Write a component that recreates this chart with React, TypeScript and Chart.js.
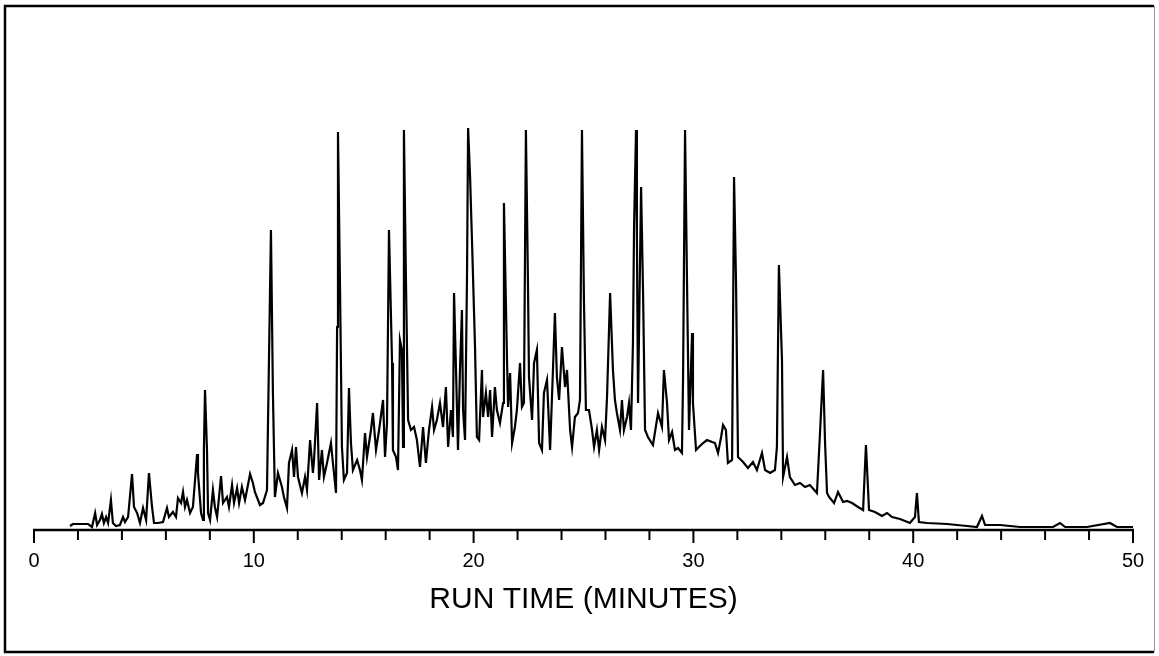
import React, { useEffect, useRef } from 'react';
import { Chart, registerables } from 'chart.js';

Chart.register(...registerables);

// Run time (minutes) of each sampled point of the chromatogram trace
const runTime = [
  1.64, 1.77, 2.46, 2.64, 2.78, 2.87, 3.0, 3.09, 3.18, 3.28, 3.37, 3.5, 3.59, 3.73, 3.91, 4.05, 4.14, 4.28, 4.46, 4.55,
  4.69, 4.82, 4.96, 5.1, 5.23, 5.37, 5.46, 5.64, 5.87, 6.05, 6.14, 6.32, 6.46, 6.55, 6.69, 6.78, 6.87, 6.96, 7.1, 7.23,
  7.42, 7.46, 7.6, 7.69, 7.73, 7.78, 7.87, 7.92, 8.01, 8.14, 8.23, 8.33, 8.51, 8.6, 8.78, 8.87, 9.01, 9.1, 9.24, 9.33,
  9.46, 9.6, 9.69, 9.83, 9.96, 10.05, 10.28, 10.42, 10.6, 10.78, 10.87, 10.96, 11.1, 11.28, 11.37, 11.51, 11.6, 11.74, 11.83, 11.92,
  12.01, 12.19, 12.33, 12.42, 12.56, 12.69, 12.74, 12.88, 12.97, 13.1, 13.19, 13.33, 13.51, 13.6, 13.74, 13.79, 13.83, 13.92, 14.01, 14.1,
  14.24, 14.33, 14.42, 14.51, 14.7, 14.83, 14.92, 15.06, 15.15, 15.33, 15.42, 15.56, 15.7, 15.88, 15.97, 16.06, 16.15, 16.29, 16.33, 16.47,
  16.56, 16.65, 16.74, 16.79, 16.83, 16.92, 17.02, 17.15, 17.29, 17.42, 17.56, 17.7, 17.83, 17.97, 18.11, 18.2, 18.33, 18.47, 18.61, 18.74,
  18.84, 18.97, 19.06, 19.11, 19.2, 19.29, 19.38, 19.47, 19.52, 19.61, 19.7, 19.75, 19.84, 19.93, 20.06, 20.15, 20.25, 20.38, 20.43, 20.56,
  20.66, 20.75, 20.84, 20.97, 21.06, 21.2, 21.34, 21.38, 21.52, 21.57, 21.66, 21.75, 21.88, 21.97, 22.11, 22.2, 22.29, 22.38, 22.47, 22.52,
  22.66, 22.75, 22.88, 22.98, 23.11, 23.2, 23.34, 23.48, 23.61, 23.7, 23.79, 23.89, 24.02, 24.16, 24.25, 24.39, 24.48, 24.61, 24.75, 24.84,
  24.93, 25.02, 25.11, 25.25, 25.39, 25.48, 25.61, 25.71, 25.84, 25.98, 26.07, 26.21, 26.34, 26.43, 26.52, 26.66, 26.75, 26.84, 26.98, 27.07,
  27.16, 27.25, 27.3, 27.39, 27.43, 27.48, 27.62, 27.71, 27.8, 27.93, 28.16, 28.39, 28.57, 28.66, 28.8, 28.89, 29.03, 29.16, 29.3, 29.48,
  29.53, 29.62, 29.71, 29.8, 29.94, 29.98, 30.12, 30.25, 30.44, 30.62, 30.85, 30.98, 31.12, 31.26, 31.35, 31.48, 31.57, 31.76, 31.85, 31.94,
  32.03, 32.26, 32.48, 32.71, 32.89, 33.12, 33.26, 33.49, 33.71, 33.8, 33.89, 34.03, 34.08, 34.26, 34.39, 34.62, 34.85, 35.08, 35.3, 35.62,
  35.76, 35.9, 35.99, 36.08, 36.17, 36.4, 36.58, 36.81, 36.99, 37.22, 37.49, 37.72, 37.85, 37.99, 38.26, 38.58, 38.81, 39.04, 39.4, 39.85,
  40.08, 40.17, 40.26, 40.63, 41.54, 42.45, 42.9, 43.13, 43.27, 43.95, 44.86, 46.36, 46.68, 46.91, 47.91, 48.95, 49.27, 50.0,
];

// Detector signal (relative units) at each run time
const signal = [
  1.0, 1.5, 1.5, 0.75, 4.25, 1.25, 2.5, 4.0, 1.75, 3.25, 1.75, 7.5, 1.75, 1.0, 1.25, 3.25, 2.0, 3.25, 14.0, 5.75,
  4.25, 1.75, 5.5, 2.5, 14.25, 5.75, 1.75, 1.75, 2.0, 5.5, 3.25, 4.5, 3.25, 8.0, 6.75, 9.5, 5.75, 7.5, 4.25, 5.75,
  19.0, 14.25, 4.25, 2.5, 20.0, 35.0, 20.0, 4.25, 2.5, 10.0, 5.75, 3.25, 13.5, 6.75, 8.25, 5.75, 11.25, 6.75, 10.5, 6.75,
  10.75, 7.5, 10.0, 14.0, 11.75, 9.5, 6.25, 6.75, 10.0, 75.0, 34.25, 8.25, 14.25, 10.75, 8.25, 5.5, 16.75, 20.0, 13.25, 20.75,
  13.25, 9.25, 13.25, 10.0, 22.5, 14.25, 17.5, 31.75, 12.5, 20.0, 13.25, 16.75, 21.75, 16.75, 9.25, 50.75, 99.5, 61.75, 20.75, 12.5,
  14.25, 35.5, 21.75, 15.0, 17.5, 15.0, 12.5, 24.25, 18.25, 25.0, 29.25, 20.0, 25.0, 32.5, 18.25, 26.75, 75.0, 41.75, 20.0, 18.25,
  15.0, 47.5, 45.0, 20.75, 100.0, 63.25, 27.5, 25.0, 25.75, 22.5, 15.75, 25.75, 16.75, 25.0, 30.75, 25.0, 27.5, 31.75, 25.75, 35.75,
  20.75, 30.0, 23.25, 59.25, 40.0, 20.0, 40.0, 55.0, 30.0, 22.5, 63.25, 100.5, 88.25, 71.75, 46.75, 23.25, 22.5, 40.0, 28.25, 34.25,
  28.25, 35.0, 23.25, 35.75, 30.0, 26.75, 31.75, 81.75, 42.5, 30.75, 39.25, 21.75, 25.75, 30.0, 41.75, 30.75, 31.75, 100.0, 63.25, 38.25,
  27.5, 41.75, 45.0, 21.75, 20.0, 34.25, 37.5, 20.0, 40.0, 54.25, 38.25, 32.5, 45.75, 35.75, 40.0, 25.0, 20.75, 28.25, 29.25, 32.5,
  100.0, 57.5, 30.0, 30.0, 25.0, 20.75, 25.0, 20.0, 25.75, 22.5, 33.25, 59.25, 40.0, 32.5, 29.25, 25.0, 32.5, 25.0, 28.25, 31.75,
  25.0, 46.75, 75.75, 100.0, 73.25, 31.75, 85.75, 59.25, 25.0, 23.25, 21.25, 29.25, 25.75, 40.0, 31.75, 22.5, 24.5, 20.0, 20.5, 19.25,
  38.25, 100.0, 61.75, 25.0, 49.25, 31.75, 20.0, 20.75, 21.75, 22.5, 22.0, 21.75, 19.25, 23.25, 26.25, 25.0, 16.75, 17.5, 88.25, 61.75,
  18.25, 17.0, 15.5, 17.0, 15.0, 19.25, 15.0, 14.25, 15.0, 20.75, 66.25, 42.5, 13.25, 18.25, 13.25, 11.25, 11.75, 10.75, 11.25, 9.25,
  24.25, 40.0, 21.75, 9.25, 8.25, 6.75, 9.5, 7.0, 7.25, 6.75, 5.75, 5.0, 21.25, 5.0, 4.5, 3.5, 4.25, 3.25, 2.75, 1.75,
  3.25, 9.25, 2.0, 1.75, 1.5, 1.0, 0.75, 3.5, 1.25, 1.25, 0.75, 0.75, 1.75, 0.75, 0.75, 1.75, 0.75, 0.75,
];

const tickValues = [0, 10, 20, 30, 40, 50];
const tickLabels = ['0', '10', '20', '30', '40', '50'];
const minorTickValues = [0, 2, 4, 6, 8, 10, 12, 14, 16, 18, 20, 22, 24, 26, 28, 30, 32, 34, 36, 38, 40, 42, 44, 46, 48, 50];
const axisTitle = 'RUN TIME (MINUTES)';

const W = 1159;
const H = 656;

export default function App() {
  const ref = useRef<HTMLCanvasElement>(null);

  useEffect(() => {
    if (!ref.current) return;

    const axisPlugin = {
      id: 'axisPlugin',
      beforeDraw(chart: any) {
        const ctx = chart.ctx;
        ctx.save();
        ctx.fillStyle = '#ffffff';
        ctx.fillRect(0, 0, chart.width, chart.height);
        ctx.restore();
      },
      beforeDatasetsDraw(chart: any) {
        const ctx = chart.ctx;
        const xs = chart.scales.x;
        const bottom = chart.chartArea.bottom;
        ctx.save();
        ctx.strokeStyle = '#000';
        ctx.lineCap = 'butt';
        ctx.lineWidth = 2.5;
        ctx.beginPath();
        ctx.moveTo(xs.getPixelForValue(0) - 1, bottom);
        ctx.lineTo(xs.getPixelForValue(50) + 1, bottom);
        ctx.stroke();
        ctx.lineWidth = 2;
        minorTickValues.forEach((v) => {
          const px = xs.getPixelForValue(v);
          const len = tickValues.includes(v) ? 13 : 10;
          ctx.beginPath();
          ctx.moveTo(px, bottom);
          ctx.lineTo(px, bottom + len);
          ctx.stroke();
        });
        ctx.restore();
      },
      afterDraw(chart: any) {
        const ctx = chart.ctx;
        ctx.save();
        ctx.strokeStyle = '#000';
        ctx.lineWidth = 2.5;
        ctx.beginPath();
        ctx.moveTo(1154, 6);
        ctx.lineTo(5, 6);
        ctx.lineTo(5, 652);
        ctx.lineTo(1154, 652);
        ctx.stroke();
        ctx.strokeStyle = '#9a9a9a';
        ctx.lineWidth = 1;
        ctx.beginPath();
        ctx.moveTo(1154.5, 6);
        ctx.lineTo(1154.5, 652);
        ctx.stroke();
        ctx.restore();
      },
    };

    const chart = new Chart(ref.current, {
      type: 'line',
      data: {
        datasets: [
          {
            data: runTime.map((t, i) => ({ x: t, y: signal[i] })),
            borderColor: '#000',
            borderWidth: 2.2,
            pointRadius: 0,
            tension: 0,
            fill: false,
          },
        ],
      },
      options: {
        animation: false,
        responsive: false,
        devicePixelRatio: 1,
        layout: { padding: { left: 34, right: 26, top: 30, bottom: 0 } },
        plugins: {
          legend: { display: false },
          tooltip: { enabled: false },
        },
        scales: {
          x: {
            type: 'linear',
            min: 0,
            max: 50,
            grid: { display: false, drawTicks: false },
            border: { display: false },
            afterBuildTicks: (s: any) => {
              s.ticks = tickValues.map((v) => ({ value: v }));
            },
            afterFit: (s: any) => {
              s.height = 126;
            },
            ticks: {
              color: '#000',
              font: { family: 'Liberation Sans', size: 20, lineHeight: '62px' },
              padding: 0,
              maxRotation: 0,
              autoSkip: false,
              callback: (_v: any, i: number) => tickLabels[i],
            },
            title: {
              display: true,
              text: axisTitle,
              color: '#000',
              font: { family: 'Liberation Sans', size: 30 },
              padding: { top: 0, bottom: 38 },
            },
          },
          y: { display: false, min: 0, max: 125 },
        },
      },
      plugins: [axisPlugin],
    } as any);

    return () => chart.destroy();
  }, []);

  return (
    <div style={{ position: 'absolute', left: 0, top: 0, width: W, height: H }}>
      <canvas ref={ref} width={W} height={H} style={{ display: 'block', width: W, height: H }} />
    </div>
  );
}
